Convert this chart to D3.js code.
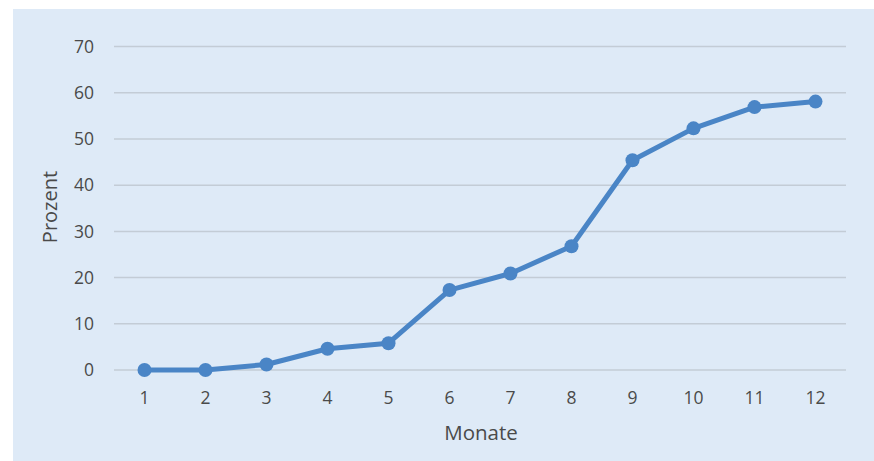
<!DOCTYPE html>
<html>
<head>
<meta charset="utf-8">
<script src="https://cdn.jsdelivr.net/npm/d3@7"></script>
<style>
  body { margin: 0; background: #fff; }
  svg text { font-family: "Open Sans", "Noto Sans", sans-serif; fill: #4a4a4a; }
</style>
</head>
<body>
<svg id="chart"></svg>
<script>
var months = [1, 2, 3, 4, 5, 6, 7, 8, 9, 10, 11, 12];
var percent = [0, 0, 1.2, 4.6, 5.8, 17.3, 20.9, 26.8, 45.4, 52.3, 56.9, 58.1];
var yTicks = [0, 10, 20, 30, 40, 50, 60, 70];

(function () {
  var width = 874, height = 461;
  var svg = d3.select("#chart").attr("width", width).attr("height", height);

  // panel background
  svg.append("rect")
    .attr("x", 13).attr("y", 9)
    .attr("width", width - 13).attr("height", height - 9)
    .style("fill", "#deeaf7");

  var x = d3.scaleBand().domain(months).range([114, 846]);
  var y = d3.scaleLinear().domain([0, 70]).range([370, 46.6]);

  // gridlines
  svg.append("g").selectAll("line")
    .data(yTicks)
    .enter().append("line")
    .attr("x1", 114).attr("x2", 846)
    .attr("y1", function(d) { return y(d); })
    .attr("y2", function(d) { return y(d); })
    .style("stroke", "#c3ccd6")
    .style("stroke-width", 1.5);

  // y tick labels
  svg.append("g").selectAll("text")
    .data(yTicks)
    .enter().append("text")
    .attr("x", 94)
    .attr("y", function(d) { return y(d); })
    .attr("dy", "0.35em")
    .style("text-anchor", "end")
    .style("font-size", "17.5px")
    .text(function(d) { return d; });

  // x tick labels
  svg.append("g").selectAll("text")
    .data(months)
    .enter().append("text")
    .attr("x", function(d) { return x(d) + x.bandwidth() / 2; })
    .attr("y", 398)
    .attr("dy", "0.35em")
    .style("text-anchor", "middle")
    .style("font-size", "17.5px")
    .text(function(d) { return d; });

  // axis titles
  svg.append("text")
    .attr("transform", "translate(57,207) rotate(-90)")
    .style("text-anchor", "middle")
    .style("font-size", "20px")
    .text("Prozent");

  svg.append("text")
    .attr("x", 481).attr("y", 433)
    .attr("dy", "0.35em")
    .style("text-anchor", "middle")
    .style("font-size", "20.5px")
    .text("Monate");

  var pts = months.map(function(m, i) { return {m: m, v: percent[i]}; });
  var line = d3.line()
    .x(function(d) { return x(d.m) + x.bandwidth() / 2; })
    .y(function(d) { return y(d.v); });

  svg.append("path")
    .datum(pts)
    .attr("d", line)
    .style("fill", "none")
    .style("stroke", "#4a85c6")
    .style("stroke-width", 5)
    .style("stroke-linejoin", "round");

  svg.append("g").selectAll("circle")
    .data(pts)
    .enter().append("circle")
    .attr("cx", function(d) { return x(d.m) + x.bandwidth() / 2; })
    .attr("cy", function(d) { return y(d.v); })
    .attr("r", 7)
    .style("fill", "#4a85c6");
})();
</script>
</body>
</html>
